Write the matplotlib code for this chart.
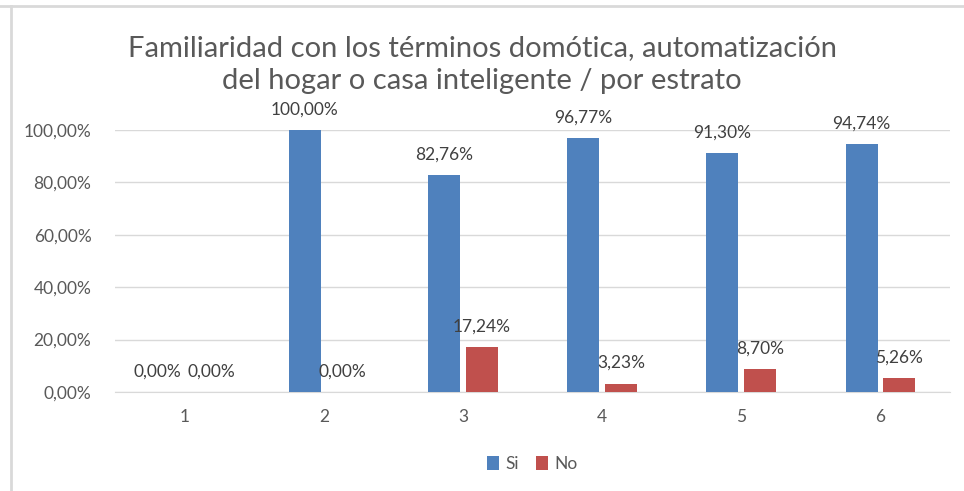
import matplotlib.pyplot as plt
import numpy as np
from matplotlib.lines import Line2D

plt.rcParams['font.family'] = ['Lato', 'DejaVu Sans']

estratos = ['1', '2', '3', '4', '5', '6']
si = [0.0, 100.0, 82.76, 96.77, 91.30, 94.74]
no = [0.0, 0.0, 17.24, 3.23, 8.70, 5.26]

titulo = 'Familiaridad con los términos domótica, automatización\ndel hogar o casa inteligente / por estrato'

azul = '#4F81BD'
rojo = '#C0504D'
gris = '#595959'

def pct(v):
    return '{:.2f}%'.format(v).replace('.', ',')

fig = plt.figure(figsize=(9.64, 4.91), dpi=100)
# borde gris arriba e izquierda
fig.add_artist(Line2D([0, 1], [0.988, 0.988], transform=fig.transFigure, color='#D9D9D9', lw=2))
fig.add_artist(Line2D([0.0115, 0.0115], [0, 0.988], transform=fig.transFigure, color='#D9D9D9', lw=2))

ax = fig.add_axes([0.1193, 0.2016, 0.8662, 0.5336])

x = np.arange(len(estratos))
w = 0.23
b1 = ax.bar(x - 0.135, si, w, color=azul, label='Si', zorder=3)
b2 = ax.bar(x + 0.135, no, w, color=rojo, label='No', zorder=3)

for i, (bars, vals) in enumerate(((b1, si), (b2, no))):
    for r, v in zip(bars, vals):
        dx = 0
        if si[int(round(r.get_x() + r.get_width() / 2))] == 0 and v == 0:
            dx = -6 if i == 0 else 6  # separar un poco las etiquetas del estrato 1
        ax.annotate(pct(v), (r.get_x() + r.get_width() / 2, v), xytext=(dx, 9),
                    textcoords='offset points', ha='center', va='bottom',
                    fontsize=12.5, color='#404040')

ax.set_xlim(-0.5, len(estratos) - 0.5)
ax.set_ylim(0, 100)
ax.set_yticks(np.arange(0, 101, 20))
ax.set_yticklabels([pct(v) for v in np.arange(0, 101, 20)])
ax.set_xticks(x)
ax.set_xticklabels(estratos)
ax.tick_params(length=0, labelsize=12.5, labelcolor=gris, pad=12)
ax.tick_params(axis='y', pad=17)
ax.grid(axis='y', color='#D9D9D9', linewidth=1, zorder=0)
for s in ['top', 'right', 'left']:
    ax.spines[s].set_visible(False)
ax.spines['bottom'].set_color('#D9D9D9')

fig.text(0.5, 0.868, titulo, ha='center', va='center', fontsize=21, color=gris,
         linespacing=1.35)

leg = ax.legend(loc='center', bbox_to_anchor=(0.5, -0.275), ncol=2, frameon=False,
                fontsize=12.5, handlelength=0.7, handleheight=0.9, handletextpad=0.35,
                columnspacing=1.0)
for t in leg.get_texts():
    t.set_color(gris)

fig.savefig('out.png', dpi=100)
